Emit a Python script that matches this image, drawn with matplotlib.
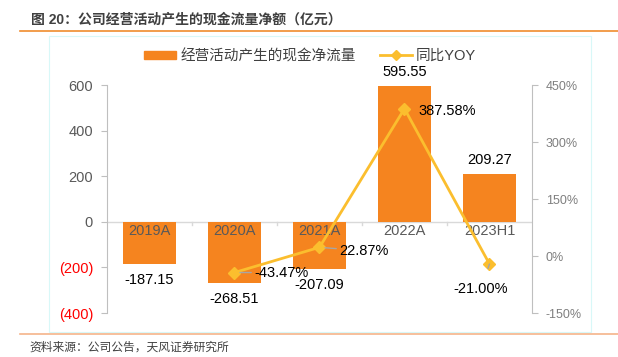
import matplotlib.pyplot as plt
from matplotlib.patches import Rectangle
from matplotlib.lines import Line2D

plt.rcParams['font.family'] = ['Liberation Sans', 'Noto Sans CJK SC', 'DejaVu Sans']

categories = ['2019A', '2020A', '2021A', '2022A', '2023H1']
cash_flow = [-187.15, -268.51, -207.09, 595.55, 209.27]
yoy_cats = ['2020A', '2021A', '2022A', '2023H1']
yoy = [-43.47, 22.87, 387.58, -21.00]
left_ticks = [-400, -200, 0, 200, 400, 600]
right_ticks = [-150, 0, 150, 300, 450]

bar_color = '#F5841F'
line_color = '#FBBE2E'

fig = plt.figure(figsize=(6.18, 3.57), dpi=100)

# header / footer decoration
fig.text(0.050, 0.946, '图 20：公司经营活动产生的现金流量净额（亿元）', fontsize=10,
         color='#404040', fontweight='bold', va='center', ha='left')
fig.add_artist(Line2D([0.032, 1.0], [0.914, 0.914], color='#F08C2E', lw=1.2))
fig.add_artist(Line2D([0.032, 1.0], [0.065, 0.065], color='#F5B48A', lw=1.2))
fig.add_artist(Rectangle((0.079, 0.070), 0.877, 0.828, fill=False,
                         edgecolor='#D8F8F8', lw=0.8))
fig.text(0.048, 0.025, '资料来源：公司公告，天风证券研究所', fontsize=8.5,
         color='#404040', va='center', ha='left')

ax = fig.add_axes([0.1731, 0.1232, 0.6877, 0.6387])
x = list(range(len(categories)))
ax.bar(x, cash_flow, width=0.62, color=bar_color, zorder=2)
ax.set_ylim(-400, 600)
ax.set_xlim(-0.5, len(categories) - 0.5)
ax.set_yticks(left_ticks)
ax.set_yticklabels([f'({-v})' if v < 0 else str(v) for v in left_ticks])
for lab, v in zip(ax.get_yticklabels(), left_ticks):
    lab.set_color('red' if v < 0 else '#595959')
ax.tick_params(axis='y', length=4, color='#BFBFBF', labelsize=10.5, pad=6)
ax.set_xticks([])
for s in ['top', 'right', 'bottom']:
    ax.spines[s].set_visible(False)
ax.spines['left'].set_color('#BFBFBF')
ax.axhline(0, color='#D9D9D9', lw=1, zorder=1)
# category separators on zero line
for b in range(1, len(categories)):
    ax.plot([b - 0.5, b - 0.5], [0, -12], color='#D9D9D9', lw=1, zorder=1)
for i, c in enumerate(categories):
    ax.text(i, -40, c, ha='center', va='center', fontsize=10.5, color='#595959', zorder=3)
for i, v in enumerate(cash_flow):
    off = 60 if v > 0 else -70
    ax.text(i, v + off, f'{v:.2f}', ha='center', va='center', fontsize=10.5, color='black', zorder=3)

ax2 = ax.twinx()
ax2.set_ylim(-150, 450)
ax2.set_yticks(right_ticks)
ax2.set_yticklabels([f'{v}%' for v in right_ticks])
ax2.tick_params(axis='y', length=4, color='#BFBFBF', labelsize=9, labelcolor='#7F7F7F', pad=6)
for s in ['top', 'left', 'bottom']:
    ax2.spines[s].set_visible(False)
ax2.spines['right'].set_color('#BFBFBF')
xl = [categories.index(c) for c in yoy_cats]
ax2.plot(xl, yoy, color=line_color, lw=2, marker='D', ms=6, zorder=4)

# labels for yoy points (leader lines like the reference)
lead = dict(arrowstyle='-', color='#A6A6A6', lw=1, shrinkA=0, shrinkB=4)
ax2.annotate(f'{yoy[0]:.2f}%', xy=(xl[0], yoy[0]), xytext=(xl[0] + 0.23, yoy[0]),
             ha='left', va='center', fontsize=10.5, arrowprops=lead, zorder=5)
ax2.annotate(f'{yoy[1]:.2f}%', xy=(xl[1], yoy[1]), xytext=(xl[1] + 0.23, yoy[1] - 9),
             ha='left', va='center', fontsize=10.5, arrowprops=lead, zorder=5)
ax2.text(xl[2] + 0.16, yoy[2] - 6, f'{yoy[2]:.2f}%', ha='left', va='center',
         fontsize=10.5, zorder=5)
ax2.annotate(f'{yoy[3]:.2f}%', xy=(xl[3], yoy[3]), xytext=(xl[3] - 0.1, yoy[3] - 65),
             ha='center', va='center', fontsize=10.5,
             arrowprops=dict(arrowstyle='-', color='#A6A6A6', lw=1,
                             shrinkA=8, shrinkB=6), zorder=5)

handles = [Rectangle((0, 0), 1, 1, color=bar_color),
           Line2D([], [], color=line_color, lw=2, marker='D', ms=5)]
fig.legend(handles, ['经营活动产生的现金净流量', '同比YOY'], loc='center',
           bbox_to_anchor=(0.502, 0.843), ncol=2, frameon=False, fontsize=10.5,
           handlelength=2.2, handleheight=0.5, columnspacing=1.6,
           handletextpad=0.3, labelcolor='#404040')

fig.savefig('out.png', dpi=100)
